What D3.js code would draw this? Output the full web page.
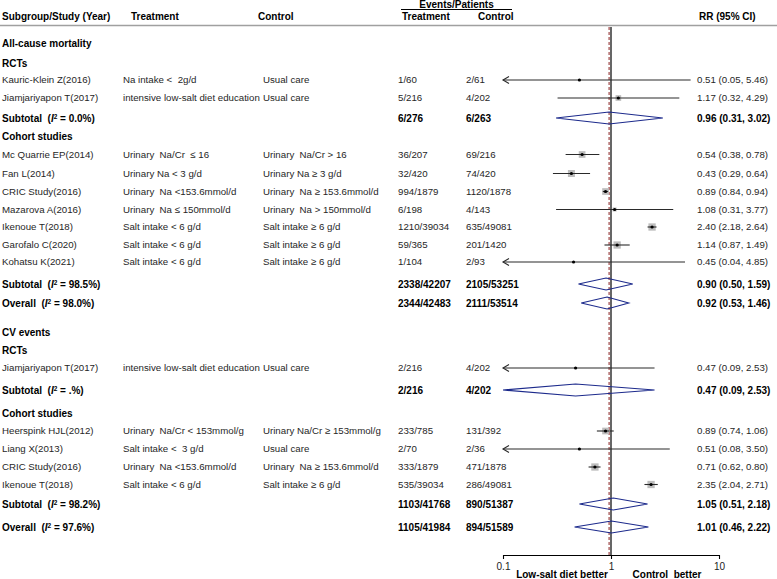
<!DOCTYPE html>
<html><head><meta charset="utf-8">
<script src="https://cdn.jsdelivr.net/npm/d3@7"></script>
<style>
html,body{margin:0;padding:0;background:#fff;}
svg{display:block;font-family:"Liberation Sans",Arial,sans-serif;}
text{white-space:pre;}
</style></head>
<body><svg id="c" width="777" height="579"></svg>
<script>
// ---------- DATA ----------
const rowKind = ["group","sub","study","study","subtotal","sub","study","study","study","study","study","study","study","subtotal","overall",
                 "group","sub","study","subtotal","sub","study","study","study","study","subtotal","overall"];
const rowLabels = ["All-cause mortality","RCTs","Kauric-Klein Z(2016)","Jiamjariyapon T(2017)","Subtotal","Cohort studies",
  "Mc Quarrie EP(2014)","Fan L(2014)","CRIC Study(2016)","Mazarova A(2016)","Ikenoue T(2018)","Garofalo C(2020)","Kohatsu K(2021)",
  "Subtotal","Overall","CV events","RCTs","Jiamjariyapon T(2017)","Subtotal","Cohort studies",
  "Heerspink HJL(2012)","Liang X(2013)","CRIC Study(2016)","Ikenoue T(2018)","Subtotal","Overall"];
const treatmentDef = ["","","Na intake <  2g/d","intensive low-salt diet education","","",
  "Urinary  Na/Cr  \u2264 16","Urinary Na < 3 g/d","Urinary  Na <153.6mmol/d","Urinary  Na \u2264 150mmol/d","Salt intake < 6 g/d","Salt intake < 6 g/d","Salt intake < 6 g/d",
  "","","","","intensive low-salt diet education","","",
  "Urinary  Na/Cr < 153mmol/g","Salt intake <  3 g/d","Urinary  Na <153.6mmol/d","Salt intake < 6 g/d","",""];
const controlDef = ["","","Usual care","Usual care","","",
  "Urinary  Na/Cr > 16","Urinary Na \u2265 3 g/d","Urinary  Na \u2265 153.6mmol/d","Urinary  Na > 150mmol/d","Salt intake \u2265 6 g/d","Salt intake \u2265 6 g/d","Salt intake \u2265 6 g/d",
  "","","","","Usual care","","",
  "Urinary Na/Cr \u2265 153mmol/g","Usual care","Urinary  Na \u2265 153.6mmol/d","Salt intake \u2265 6 g/d","",""];
const eventsTreatment = ["","","1/60","5/216","6/276","","36/207","32/420","994/1879","6/198","1210/39034","59/365","1/104","2338/42207","2344/42483",
  "","","2/216","2/216","","233/785","2/70","333/1879","535/39034","1103/41768","1105/41984"];
const eventsControl = ["","","2/61","4/202","6/263","","69/216","74/420","1120/1878","4/143","635/49081","201/1420","2/93","2105/53251","2111/53514",
  "","","4/202","4/202","","131/392","2/36","471/1878","286/49081","890/51387","894/51589"];
const rr     = [null,null,0.51,1.17,0.96,null,0.54,0.43,0.89,1.08,2.40,1.14,0.45,0.90,0.92, null,null,0.47,0.47,null,0.89,0.51,0.71,2.35,1.05,1.01];
const rrLow  = [null,null,0.05,0.32,0.31,null,0.38,0.29,0.84,0.31,2.18,0.87,0.04,0.50,0.53, null,null,0.09,0.09,null,0.74,0.08,0.62,2.04,0.51,0.46];
const rrHigh = [null,null,5.46,4.29,3.02,null,0.78,0.64,0.94,3.77,2.64,1.49,4.85,1.59,1.46, null,null,2.53,2.53,null,1.06,3.50,0.80,2.71,2.18,2.22];
// study weights (%) estimated from square sizes
const weights = [null,null,0.8,6.0,null,null,8.4,9.2,8.4,3.0,10.0,10.0,0.6,null,null, null,null,0.8,null,null,8.4,0.8,10.0,10.0,null,null];
const iSquared = ["","","","","0.0","","","","","","","","","98.5","98.0","","","",".","","","","","","98.2","97.6"];
const axisTicks = [0.1, 1, 10];
const refLine = 0.96;
const axisLabels = ["Low-salt diet better","Control  better"];

// ---------- LAYOUT ----------
const rowGap = [43,20,17,18,20,18,18.5,19,18,18,17.5,18,17,22,19, 29,18,18,22,23,18,18,18,17.5,19.5,23];
const rowY = []; rowGap.reduce((acc,g,i)=>{ rowY[i]=acc+g; return acc+g; },0);

const rows = rowKind.map((k,i)=>({kind:k,label:rowLabels[i],tdef:treatmentDef[i],cdef:controlDef[i],
  et:eventsTreatment[i],ec:eventsControl[i],rr:rr[i],lo:rrLow[i],hi:rrHigh[i],w:weights[i],i2:iSquared[i],y:rowY[i]}));

const svg = d3.select("#c");
const FS = 10, FSR = 9.7;
const x = d3.scaleLog().domain([0.1,10]).range([503,719]);
const size = d3.scaleSqrt().domain([0,10]).range([0,7.3]);
const axisY = 555, topY = 27;
const col = {study:2, tdef:123, cdef:263, et:398, ec:466, rr:697};

// header
const hdr = svg.append("g").attr("font-weight","bold").attr("font-size",FS).attr("fill","#000");
hdr.append("text").attr("x",2).attr("y",19.5).text("Subgroup/Study (Year)");
hdr.append("text").attr("x",131).attr("y",19.5).text("Treatment");
hdr.append("text").attr("x",258).attr("y",19.5).text("Control");
hdr.append("text").attr("x",456.5).attr("y",7.5).attr("text-anchor","middle").text("Events/Patients");
hdr.append("text").attr("x",402).attr("y",19.5).text("Treatment");
hdr.append("text").attr("x",478).attr("y",19.5).text("Control");
hdr.append("text").attr("x",699).attr("y",19.5).text("RR (95% CI)");
svg.append("line").attr("x1",401).attr("x2",512).attr("y1",9.5).attr("y2",9.5).attr("stroke","#000").attr("stroke-width",1);
svg.append("line").attr("x1",0).attr("x2",777).attr("y1",25.5).attr("y2",25.5).attr("stroke","#a0a0a0").attr("stroke-width",1.5);

// reference lines
svg.append("line").attr("x1",x(1)).attr("x2",x(1)).attr("y1",topY).attr("y2",axisY).attr("stroke","#000").attr("stroke-width",1.2);
svg.append("line").attr("x1",x(refLine)).attr("x2",x(refLine)).attr("y1",topY).attr("y2",axisY)
  .attr("stroke","#8b2323").attr("stroke-width",1).attr("stroke-dasharray","3,2");

// text rows
const tg = svg.append("g");
rows.forEach(r=>{
  const bold = r.kind!=="study";
  const fill = bold ? "#000" : "#262626";
  const fs = bold ? FS : FSR;
  const t = tg.append("text").attr("x",col.study).attr("y",r.y).attr("dy","0.35em").attr("font-size",fs)
    .attr("font-weight",bold?"bold":"normal").attr("fill",fill);
  if(r.kind==="subtotal"||r.kind==="overall"){
    t.append("tspan").text(r.label+"  (");
    t.append("tspan").attr("font-style","italic").text("I");
    t.append("tspan").attr("font-size",6.5).attr("dy","-0.45em").text("2");
    t.append("tspan").attr("dy","0.3em").text(" = "+r.i2+"%)");
  } else t.text(r.label);
  if(r.kind==="study"){
    tg.append("text").attr("x",col.tdef).attr("y",r.y).attr("dy","0.35em").attr("font-size",fs).attr("fill",fill).text(r.tdef);
    tg.append("text").attr("x",col.cdef).attr("y",r.y).attr("dy","0.35em").attr("font-size",fs).attr("fill",fill).text(r.cdef);
  }
  if(r.rr!=null){
    const fw = bold?"bold":"normal";
    tg.append("text").attr("x",col.et).attr("y",r.y).attr("dy","0.35em").attr("font-size",fs).attr("font-weight",fw).attr("fill",fill).text(r.et);
    tg.append("text").attr("x",col.ec).attr("y",r.y).attr("dy","0.35em").attr("font-size",fs).attr("font-weight",fw).attr("fill",fill).text(r.ec);
    tg.append("text").attr("x",col.rr).attr("y",r.y).attr("dy","0.35em").attr("font-size",fs).attr("font-weight",fw).attr("fill",fill)
      .text(`${r.rr.toFixed(2)} (${r.lo.toFixed(2)}, ${r.hi.toFixed(2)})`);
  }
});

// study marks
const mg = svg.append("g");
const clampLo = v=>Math.max(v,0.1), clampHi = v=>Math.min(v,10);
rows.filter(r=>r.kind==="study").forEach(r=>{
  const s = size(r.w);
  mg.append("rect").attr("x",x(r.rr)-s/2).attr("y",r.y-s/2).attr("width",s).attr("height",s).attr("fill","#bdbdbd");
  mg.append("line").attr("x1",x(clampLo(r.lo))).attr("x2",x(clampHi(r.hi))).attr("y1",r.y).attr("y2",r.y)
    .attr("stroke","#2a2a2a").attr("stroke-width",1.1);
  if(r.lo<0.1){
    const ax = x(0.1);
    mg.append("path").attr("d",`M${ax+6},${r.y-3.5}L${ax},${r.y}L${ax+6},${r.y+3.5}`)
      .attr("fill","none").attr("stroke","#2a2a2a").attr("stroke-width",1.1);
  }
  mg.append("circle").attr("cx",x(r.rr)).attr("cy",r.y).attr("r",1.6).attr("fill","#000");
});

// diamonds
rows.filter(r=>r.kind==="subtotal"||r.kind==="overall").forEach(r=>{
  const h = 6;
  mg.append("path").attr("d",`M${x(clampLo(r.lo))},${r.y}L${x(r.rr)},${r.y-h}L${x(clampHi(r.hi))},${r.y}L${x(r.rr)},${r.y+h}Z`)
    .attr("fill","none").attr("stroke","#1c2a8c").attr("stroke-width",1.1);
});

// axis
const ax = svg.append("g").attr("transform",`translate(0,${axisY})`)
  .call(d3.axisBottom(x).tickValues(axisTicks).tickFormat(d3.format("")).tickSize(4).tickPadding(4).tickSizeOuter(0));
ax.select(".domain").attr("stroke","#000").attr("stroke-width",1.1);
ax.selectAll(".tick line").attr("stroke","#000").attr("stroke-width",1.1);
ax.selectAll(".tick text").attr("font-size",FS).attr("fill","#222").attr("font-family","Liberation Sans, Arial, sans-serif");

svg.append("text").attr("x",562).attr("y",578).attr("text-anchor","middle").attr("font-size",FS).attr("font-weight","bold").text(axisLabels[0]);
svg.append("text").attr("x",667).attr("y",578).attr("text-anchor","middle").attr("font-size",FS).attr("font-weight","bold").text(axisLabels[1]);
</script></body></html>
